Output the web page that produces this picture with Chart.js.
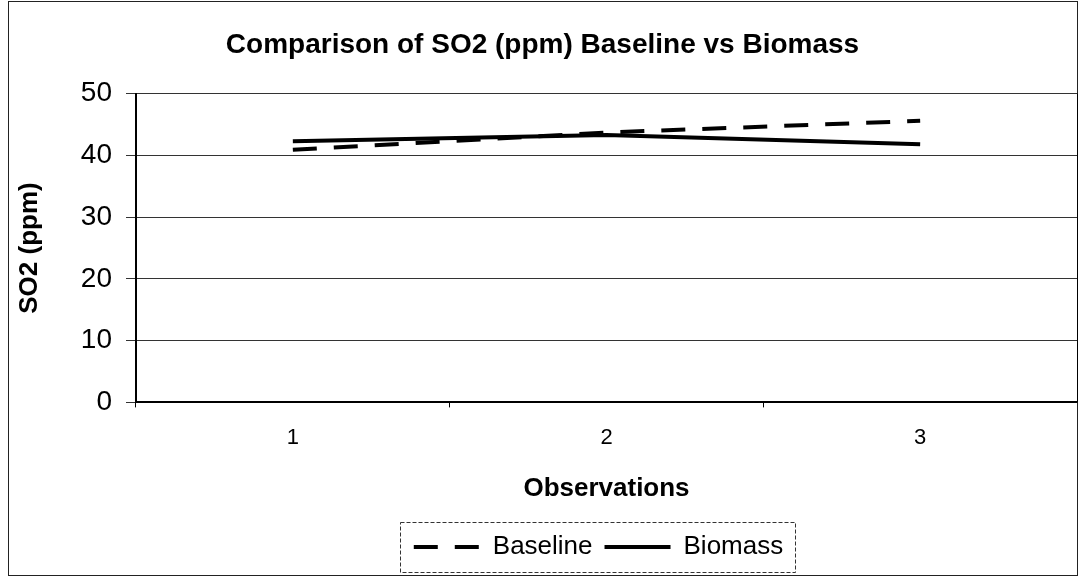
<!DOCTYPE html>
<html>
<head>
<meta charset="utf-8">
<script src="https://cdn.jsdelivr.net/npm/chart.js@4"></script>
<style>
  html, body { margin: 0; padding: 0; background: #fff; }
  #wrap { position: relative; width: 1081px; height: 579px; }
</style>
</head>
<body>
<div id="wrap"><canvas id="so2-chart" width="1081" height="579"></canvas></div>
<script>
const observations = ['1', '2', '3']
const baseline = [40.9, 43.7, 45.6]
const biomass = [42.3, 43.3, 41.8]
const yTicks = [0, 10, 20, 30, 40, 50]

const FONT = "'Liberation Sans', Arial, sans-serif"
const LEGEND_SHIFT = 56

// outer frame, right edge of the plot, dashed box around the legend
const framePlugin = {
  id: 'frame',
  afterLayout(chart) {
    // the legend in the original sits a bit right of centre
    chart.legend.left += LEGEND_SHIFT
    chart.legend.right += LEGEND_SHIFT
  },
  afterDraw(chart) {
    const ctx = chart.ctx
    const area = chart.chartArea
    ctx.save()
    ctx.strokeStyle = '#222'
    ctx.lineWidth = 1
    ctx.strokeRect(8.5, 1.5, 1069, 574)

    ctx.strokeStyle = '#000'
    ctx.beginPath()
    ctx.moveTo(Math.round(area.right) + 0.5, area.top)
    ctx.lineTo(Math.round(area.right) + 0.5, area.bottom)
    ctx.stroke()

    const lg = chart.legend
    if (lg && lg.legendHitBoxes.length) {
      const boxes = lg.legendHitBoxes
      const last = boxes[boxes.length - 1]
      const left = boxes[0].left - 14
      const right = last.left + last.width + 12
      const top = boxes[0].top - 12
      const bottom = boxes[0].top + boxes[0].height + 12
      ctx.setLineDash([4, 2])
      ctx.strokeStyle = '#333'
      ctx.strokeRect(Math.round(left) + 0.5, Math.round(top) + 0.5, Math.round(right - left), Math.round(bottom - top))
    }
    ctx.restore()
  }
}

const chart = new Chart(document.getElementById('so2-chart'), {
  type: 'line',
  data: {
    labels: observations,
    datasets: [
      {
        label: 'Baseline',
        data: baseline,
        borderColor: '#000',
        backgroundColor: '#000',
        borderWidth: 4,
        borderDash: [24, 17],
        pointStyle: 'line',
        tension: 0
      },
      {
        label: 'Biomass',
        data: biomass,
        borderColor: '#000',
        backgroundColor: '#000',
        borderWidth: 4,
        pointStyle: 'line',
        tension: 0
      }
    ]
  },
  options: {
    responsive: false,
    animation: false,
    elements: {
      point: { radius: 0 }
    },
    layout: {
      padding: { left: 8, right: 4, top: 20, bottom: 9 }
    },
    scales: {
      x: {
        offset: true,
        grid: {
          display: true,
          offset: true,
          drawOnChartArea: false,
          color: '#000',
          tickLength: 5
        },
        border: { color: '#000', width: 2 },
        ticks: {
          color: '#000',
          font: { family: FONT, size: 22 },
          padding: 17
        },
        title: {
          display: true,
          text: 'Observations',
          color: '#000',
          font: { family: FONT, size: 26, weight: 'bold' },
          padding: { top: 5, bottom: 18 }
        }
      },
      y: {
        min: 0,
        max: 50,
        afterBuildTicks: (scale) => {
          scale.ticks = yTicks.map(v => ({ value: v }))
        },
        afterFit: (scale) => {
          scale.width = 128
        },
        grid: {
          color: '#333',
          tickLength: 10
        },
        border: { color: '#000', width: 2 },
        ticks: {
          color: '#000',
          font: { family: FONT, size: 28 },
          padding: 14
        },
        title: {
          display: true,
          text: 'SO2 (ppm)',
          color: '#000',
          font: { family: FONT, size: 26, weight: 'bold' },
          padding: { top: 6, bottom: 10 }
        }
      }
    },
    plugins: {
      title: {
        display: true,
        text: 'Comparison of SO2 (ppm) Baseline vs Biomass',
        color: '#000',
        font: { family: FONT, size: 28, weight: 'bold' },
        padding: { top: 8, bottom: 32 }
      },
      legend: {
        display: true,
        position: 'bottom',
        labels: {
          usePointStyle: true,
          pointStyleWidth: 66,
          boxWidth: 66,
          boxHeight: 4,
          padding: 12,
          color: '#000',
          font: { family: FONT, size: 26 },
          // point-style items lose the dataset dash, so put it back
          generateLabels: (chart) => {
            const items = Chart.defaults.plugins.legend.labels.generateLabels(chart)
            return items.map(item => {
              const ds = chart.data.datasets[item.datasetIndex]
              return { ...item, lineDash: ds.borderDash || [], lineWidth: ds.borderWidth, strokeStyle: ds.borderColor }
            })
          }
        }
      },
      tooltip: { enabled: false }
    }
  },
  plugins: [framePlugin]
})
</script>
</body>
</html>
